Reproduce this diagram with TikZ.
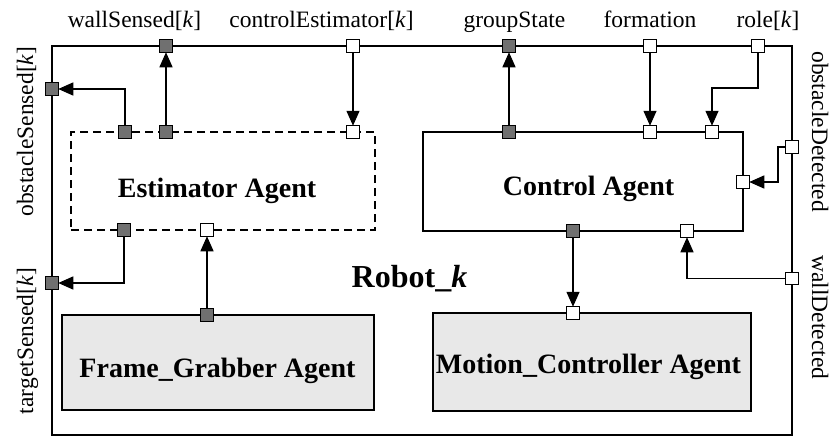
\documentclass[tikz,border=0pt]{standalone}
\usepackage{fontspec}
\setmainfont{Liberation Serif}
\usetikzlibrary{arrows.meta}
\definecolor{portgray}{HTML}{707070}
\definecolor{agentfill}{HTML}{E8E8E8}
\begin{document}
\begin{tikzpicture}[x=1pt,y=-1pt,
  port/.style={draw, line width=0.8pt, minimum size=12.5pt, inner sep=0pt, outer sep=0pt},
  outport/.style={port, fill=portgray},
  inport/.style={port, fill=white},
  agentbox/.style={draw, line width=1.4pt, inner sep=0pt, outer sep=0pt},
  robotbox/.style={draw, line width=1.8pt, inner sep=0pt, outer sep=0pt},
  link/.style={line width=1.4pt, -{Triangle[length=15pt,width=13pt]}},
  sig/.style={font=\fontsize{23.5}{28}\selectfont, inner sep=0pt},
  agentlabel/.style={font=\fontsize{28}{33}\selectfont\bfseries, inner sep=0pt, anchor=base}]
\useasboundingbox (0,0) rectangle (833,437);

% enclosing robot
\node[robotbox, minimum width=740pt, minimum height=389pt] (robot) at (422,240.5) {};
\node[agentlabel] (robotname) at (409.5,287) {\fontsize{32}{38}\selectfont Robot\_\textit{k}};

% agents
\node[agentbox, dashed, dash pattern=on 8pt off 5pt, minimum width=304pt, minimum height=98pt] (est) at (223,181) {};
\node[agentbox, minimum width=320pt, minimum height=99pt] (ctl) at (583,181.5) {};
\node[agentbox, fill=agentfill, minimum width=312pt, minimum height=95pt] (fg) at (218,362.5) {};
\node[agentbox, fill=agentfill, minimum width=318pt, minimum height=98pt] (mc) at (592,362) {};

\node[agentlabel] (estname) at (217,197) {Estimator Agent};
\node[agentlabel] (ctlname) at (588.5,195) {Control Agent};
\node[agentlabel] (fgname) at (217.5,377) {Frame\_Grabber Agent};
\node[agentlabel] (mcname) at (588.5,373) {Motion\_Controller Agent};

% ports on the robot boundary
\node[outport] (wS) at (166,46) {};
\node[inport]  (cE) at (353,46) {};
\node[outport] (gS) at (509,46) {};
\node[inport]  (fm) at (650,46) {};
\node[inport]  (rl) at (758,46) {};
\node[outport] (oS) at (52,89) {};
\node[outport] (tS) at (52,283) {};
\node[inport]  (oD) at (792,147) {};
\node[inport]  (wD) at (792,278.5) {};

% estimator ports
\node[outport] (e1) at (125,132) {};
\node[outport] (e2) at (166,132) {};
\node[inport]  (e3) at (353,132) {};
\node[outport] (e4) at (124,230) {};
\node[inport]  (e5) at (207,230) {};
% frame grabber port
\node[outport] (f1) at (207,315) {};
% control ports
\node[outport] (c1) at (509,132) {};
\node[inport]  (c2) at (650,132) {};
\node[inport]  (c3) at (712,132) {};
\node[inport]  (c4) at (743,182) {};
\node[outport] (c6) at (573,231) {};
\node[inport]  (c5) at (687,231) {};
% motion controller port
\node[inport]  (m1) at (573,313) {};

% bends
\coordinate (rbend) at (758,88);
\coordinate (obend) at (778,147);

% connectors
\draw[link] (e1) |- (oS);
\draw[link] (e2) -- (wS);
\draw[link] (cE) -- (e3);
\draw[link] (e4) |- (tS);
\draw[link] (f1) -- (e5);
\draw[link] (c1) -- (gS);
\draw[link] (fm) -- (c2);
\draw[link] (rl) -- (rbend) -| (c3);
\draw[link] (oD) -- (obend) |- (c4);
\draw[link] (wD) -| (c5);
\draw[link] (c6) -- (m1);

% signal names
\node[sig, anchor=base] (lwS) at (134.5,27) {wallSensed[\textit{k}]};
\node[sig, anchor=base] (lcE) at (321.5,27) {controlEstimator[\textit{k}]};
\node[sig, anchor=base] (lgS) at (514.5,27) {groupState};
\node[sig, anchor=base] (lfm) at (650,27) {formation};
\node[sig, anchor=base] (lrl) at (768,27) {role[\textit{k}]};
\node[sig, anchor=base, rotate=90] (loS) at (33,131.5) {obstacleSensed[\textit{k}]};
\node[sig, anchor=base, rotate=90] (ltS) at (33,341) {targetSensed[\textit{k}]};
\node[sig, anchor=base, rotate=-90] (loD) at (812,131.5) {obstacleDetected};
\node[sig, anchor=base, rotate=-90] (lwD) at (812,317.5) {wallDetected};
\end{tikzpicture}
\end{document}
